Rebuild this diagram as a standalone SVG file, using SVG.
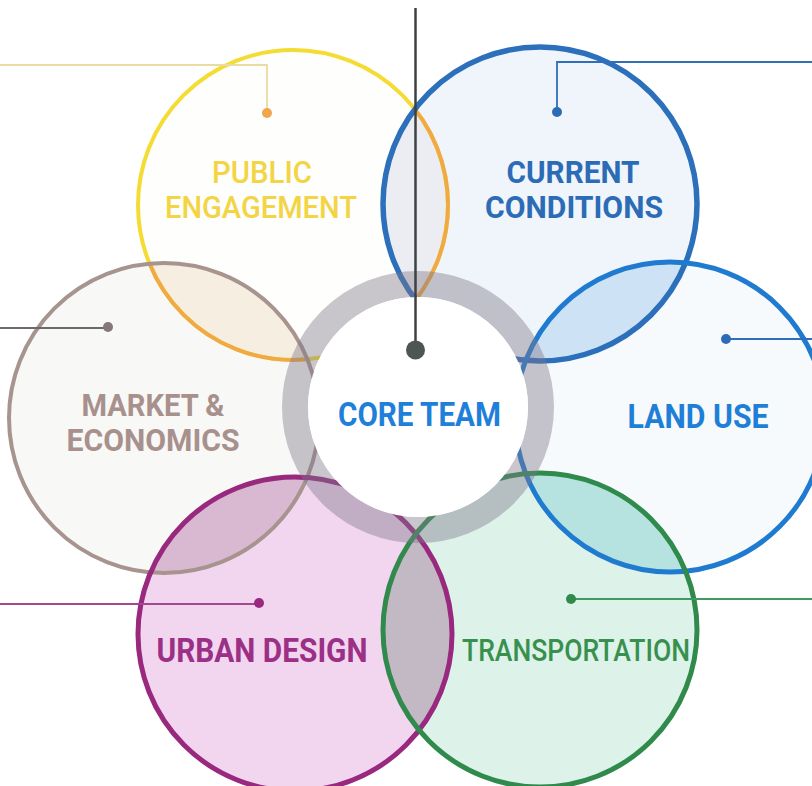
<svg xmlns="http://www.w3.org/2000/svg" width="812" height="786" viewBox="0 0 812 786">
  <style>
    .lbl { font-family: "Roboto", "Liberation Sans", "DejaVu Sans", sans-serif; text-anchor: middle; }
    .lead { fill: none; stroke-width: 1.8; }
  </style>
  <defs>
    <clipPath id="clip-pe"><circle cx="293" cy="205" r="155"/></clipPath>
    <clipPath id="clip-cc"><circle cx="540" cy="204" r="157"/></clipPath>
    <clipPath id="clip-lu"><circle cx="670" cy="417" r="155"/></clipPath>
    <clipPath id="clip-me"><circle cx="164" cy="418" r="155"/></clipPath>
    <clipPath id="clip-ud"><circle cx="295" cy="634" r="157"/></clipPath>
    <clipPath id="clip-tr"><circle cx="540" cy="630" r="157"/></clipPath>
  </defs>

  <rect width="812" height="786" fill="#ffffff"/>

  <!-- circle fills -->
  <g id="fills">
    <circle cx="293" cy="205" r="155" fill="#fefefc"/>
    <circle cx="164" cy="418" r="155" fill="#f8f8f7"/>
    <circle cx="540" cy="204" r="157" fill="#eff5fa"/>
    <circle cx="670" cy="417" r="155" fill="#f7fafd"/>
    <circle cx="295" cy="634" r="157" fill="#f2d6ef"/>
    <circle cx="540" cy="630" r="157" fill="#ddf2e9"/>
  </g>

  <!-- overlap lenses -->
  <g id="overlaps">
    <circle cx="164" cy="418" r="155" fill="#f6eee0" clip-path="url(#clip-pe)"/>
    <circle cx="540" cy="204" r="157" fill="#ecedf2" clip-path="url(#clip-pe)"/>
    <circle cx="670" cy="417" r="155" fill="#cde2f5" clip-path="url(#clip-cc)"/>
    <circle cx="540" cy="630" r="157" fill="#b6e2df" clip-path="url(#clip-lu)"/>
    <circle cx="295" cy="634" r="157" fill="#d8b9d1" clip-path="url(#clip-me)"/>
    <circle cx="540" cy="630" r="157" fill="#c3b9c4" clip-path="url(#clip-ud)"/>
  </g>

  <!-- circle outlines -->
  <g id="outlines">
    <circle cx="293" cy="205" r="155" fill="none" stroke="#f4dc34" stroke-width="4"/>
    <g fill="none" stroke="#f0aa45" stroke-width="4">
      <circle cx="293" cy="205" r="155" clip-path="url(#clip-me)"/>
      <circle cx="293" cy="205" r="155" clip-path="url(#clip-cc)"/>
    </g>
    <circle cx="164" cy="418" r="155" fill="none" stroke="#a8948f" stroke-width="4"/>
    <circle cx="540" cy="204" r="157" fill="none" stroke="#2c6fba" stroke-width="5.5"/>
    <circle cx="670" cy="417" r="155" fill="none" stroke="#1f7bd0" stroke-width="5"/>
    <circle cx="295" cy="634" r="157" fill="none" stroke="#98297f" stroke-width="5"/>
    <circle cx="540" cy="630" r="157" fill="none" stroke="#2f8a4c" stroke-width="5"/>
  </g>

  <!-- core team hub -->
  <g id="core-team">
    <circle cx="418" cy="407" r="123" fill="none" stroke="#7f7688" stroke-opacity="0.42" stroke-width="26"/>
    <circle cx="418" cy="407" r="110" fill="#ffffff"/>
    <text class="lbl" x="419.5" y="426" font-size="34" font-weight="bold" fill="#1f80da" textLength="163" lengthAdjust="spacingAndGlyphs">CORE TEAM</text>
  </g>

  <!-- leader lines -->
  <g id="connectors">
    <polyline class="lead" points="0,65 267,65 267,113" stroke="#eadba2"/>
    <circle cx="267" cy="113" r="5" fill="#f0a64a"/>
    <polyline class="lead" points="557,112 557,62 812,62" stroke="#2f6eb8"/>
    <circle cx="557" cy="112" r="5" fill="#2c6cb4"/>
    <line class="lead" x1="726" y1="339" x2="812" y2="339" stroke="#2f6eb8"/>
    <circle cx="726" cy="339" r="5" fill="#2c6cb4"/>
    <line class="lead" x1="0" y1="328" x2="108" y2="328" stroke="#6e6868"/>
    <circle cx="108" cy="327" r="5" fill="#85787a"/>
    <line class="lead" x1="0" y1="604" x2="259" y2="604" stroke="#a2488f"/>
    <circle cx="259" cy="603" r="5" fill="#98297f"/>
    <line class="lead" x1="571" y1="599" x2="812" y2="599" stroke="#3f9a62"/>
    <circle cx="571" cy="599" r="5" fill="#2f8a4c"/>
    <line x1="415.5" y1="8" x2="415.5" y2="350" stroke="#3c4242" stroke-width="2.5"/>
    <circle cx="415.5" cy="350" r="9.5" fill="#4d5555"/>
  </g>

  <g id="public-engagement">
    <text class="lbl" x="262" y="183" font-size="31" font-weight="500" fill="#f3d444" textLength="100" lengthAdjust="spacingAndGlyphs">PUBLIC</text>
    <text class="lbl" x="261" y="218" font-size="31" font-weight="500" fill="#f3d444" textLength="192" lengthAdjust="spacingAndGlyphs">ENGAGEMENT</text>
  </g>
  <g id="current-conditions">
    <text class="lbl" x="573" y="183" font-size="32" font-weight="bold" fill="#2c6cb6" textLength="133" lengthAdjust="spacingAndGlyphs">CURRENT</text>
    <text class="lbl" x="574" y="218" font-size="32" font-weight="bold" fill="#2c6cb6" textLength="178" lengthAdjust="spacingAndGlyphs">CONDITIONS</text>
  </g>
  <g id="land-use">
    <text class="lbl" x="698" y="428" font-size="34" font-weight="bold" fill="#1f7fd6" textLength="141" lengthAdjust="spacingAndGlyphs">LAND USE</text>
  </g>
  <g id="market-economics">
    <text class="lbl" x="153" y="416" font-size="32" font-weight="bold" fill="#a8918d" textLength="143" lengthAdjust="spacingAndGlyphs">MARKET &amp;</text>
    <text class="lbl" x="153" y="451" font-size="32" font-weight="bold" fill="#a8918d" textLength="173" lengthAdjust="spacingAndGlyphs">ECONOMICS</text>
  </g>
  <g id="urban-design">
    <text class="lbl" x="262" y="662" font-size="33" font-weight="bold" fill="#9c2f86" textLength="211" lengthAdjust="spacingAndGlyphs">URBAN DESIGN</text>
  </g>
  <g id="transportation">
    <text class="lbl" x="576" y="661" font-size="31" font-weight="500" fill="#38904f" textLength="228" lengthAdjust="spacingAndGlyphs">TRANSPORTATION</text>
  </g>
</svg>
